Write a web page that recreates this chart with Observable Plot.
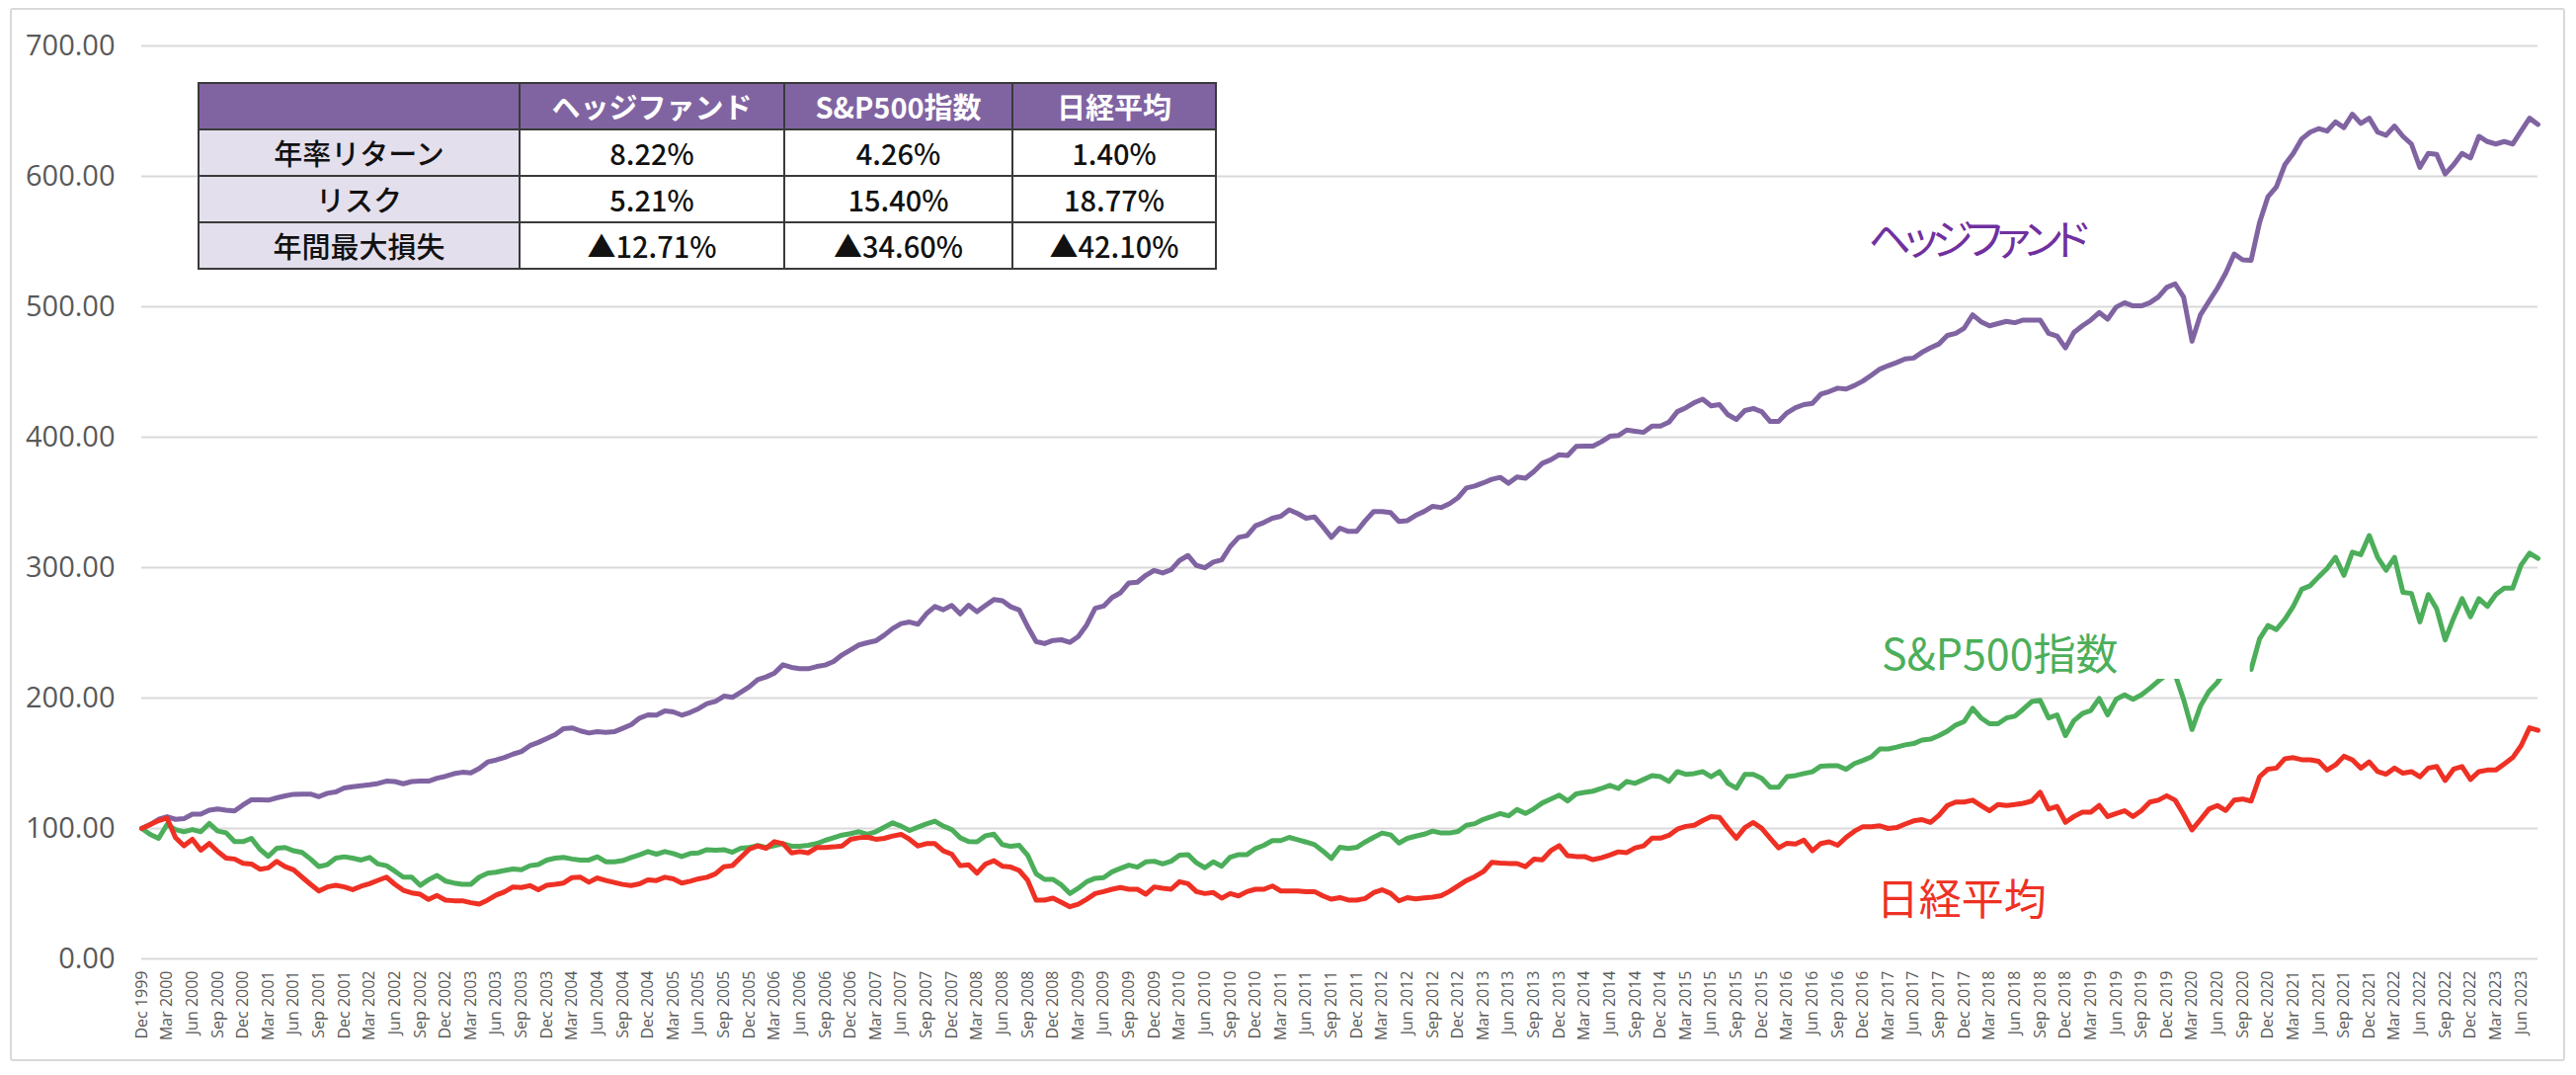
<!DOCTYPE html>
<html>
<head>
<meta charset="utf-8">
<script src="https://cdn.jsdelivr.net/npm/d3@7"></script>
<script src="https://cdn.jsdelivr.net/npm/@observablehq/plot@0.6"></script>
<style>
  html, body { margin: 0; padding: 0; background: #ffffff; }
  #wrap { position: relative; width: 2608px; height: 1088px; overflow: hidden; background: #fff; }
  #frame { position: absolute; left: 10px; top: 8px; width: 2587px; height: 1066px; border: 2px solid #d9d9d9; border-radius: 3px; box-sizing: border-box; pointer-events: none; }
  #stats { position: absolute; left: 200px; top: 83px; border-collapse: collapse; font-family: "Noto Sans CJK JP", sans-serif; font-size: 29px; color: #111; table-layout: fixed; }
  #stats td, #stats th { border: 2px solid #3a3a3a; text-align: center; padding: 0; height: 45px; line-height: 45px; }
  #stats th { background: #8064a2; color: #fff; font-weight: 700; }
  #stats td.rowhead { background: #e4dfec; font-weight: 500; }
  #stats td.val { background: #fff; font-weight: 500; }
  .series-label { font-feature-settings: "palt"; }
</style>
</head>
<body>
<div id="wrap"><div id="frame"></div></div>
<script>
// ---- Data (monthly index values, Dec 1999 = 100, through Aug 2023) ----
const startYear = 1999, startMonthIndex = 11; // December 1999
const monthNames = ["Jan","Feb","Mar","Apr","May","Jun","Jul","Aug","Sep","Oct","Nov","Dec"];

const hedgeFund = [
  100,103,107,109,107,107.5,111,111,114,115,
  114,113.5,118,122,122,121.7,123.5,125,126.2,126.4,
  126.4,124.4,127,128,131,132,132.7,133.5,134.5,136.3,
  136,134.3,136,136.3,136.3,138.5,140,142,143.1,142.6,
  146,151,152.5,154.4,157,159,163.5,166,169,172,
  176.6,177.1,174.8,173.2,174.2,173.7,174.2,176.8,179.5,184.6,
  187.1,186.9,190.2,189.4,186.9,189,191.9,195.7,197.5,201.5,
  200.5,204.5,208.6,214.1,216.2,219.2,225.5,223.5,222.5,222.5,
  224.2,225.3,228,233.1,236.9,240.7,242.4,243.9,248.2,253.3,
  257.1,258.3,256.6,264.6,270.2,267.7,271,264.6,271.2,266.2,
  271,275.5,274.6,270,267.5,254.8,243.4,241.7,244.2,244.7,
  242.7,247.2,256.1,268.8,270.5,277.1,280.7,288.3,288.8,294.1,
  297.9,295.9,298.4,305.5,309.3,301.7,299.9,304.2,306,316.1,
  323.2,324.5,332.1,334.6,337.9,339.4,344.3,341.5,337.9,338.9,
  331.3,323.2,330.3,327.8,327.8,335.9,343,343,342.2,335.5,
  336,340.1,343.1,347,346.1,349.1,353.6,361.1,362.6,365,
  367.7,369.2,364.7,369.5,368.6,373.7,380,382.7,386.6,386,
  392.9,393.2,393.2,396.5,400.7,401.3,405.5,404.6,403.7,408.5,
  408.5,411.5,419.6,422.6,426.5,429.2,424.1,425,417.2,413.6,
  420.5,422,419.6,412.1,412.1,418.7,422.6,425,426,433,
  435,437.6,436.9,439.7,443.1,447.5,452.2,454.9,457.3,460,
  460.7,465.1,468.5,471.5,478,479.7,483.7,493.9,488.5,485.4,
  487.1,488.8,487.8,489.8,489.8,489.8,479.7,477.6,468.5,480.3,
  485.4,489.8,495.6,490.5,499.7,503.1,500.7,500.7,503.1,507.5,
  514.9,517.6,507.5,473.6,493.9,504.1,514.2,526,540.5,536,
  535.6,564.6,584.4,591.9,608.9,617.6,628.7,633.9,636.6,634.7,
  641.8,637.4,647.7,640.6,644.6,633.9,631.5,638.6,630.7,624.8,
  606.9,617.6,616.8,601.8,608.9,617.6,614.1,630.7,626.7,624.8,
  626.7,624.8,634.7,644.6,639.8
];

const sp500 = [
  100,95.5,92.4,103,99.2,97.5,99.2,97.5,103.8,98,
  96.7,89.9,89.9,92.4,84.1,78.6,84.9,85.4,82.9,81.6,
  76.6,70.8,72.3,77.3,78.3,77.3,75.8,77.8,72.8,71.5,
  67.3,62.7,62.7,56.4,60.7,64,59.7,58.2,57.2,57.2,
  62.7,65.7,66.5,67.8,69,68.3,71.5,72.3,75.8,77.3,
  77.8,76.6,75.8,75.8,78.3,74.5,74.5,75.3,77.8,79.8,
  82.3,80.3,82.3,80.8,78.5,80.8,81.3,83.8,83.3,83.8,
  81.8,84.8,85.4,86.9,85.4,86.9,88.4,86.4,86.4,87.1,
  88.4,90.9,92.9,94.9,96,97.5,95.5,97.5,101,104.3,
  101.8,98.5,101,103.5,105.6,101.8,99.2,92.9,89.9,89.8,
  94.4,95.6,87.6,86.3,87.1,79.5,65.3,61,61,56.7,
  50.1,54.2,59.2,61.8,62.3,66.8,69.4,71.9,70.4,74.4,
  74.9,72.9,74.9,79.5,80,73.7,69.9,74.4,71.1,78,
  80,80,84.6,87.1,90.7,90.7,93.2,91.4,89.6,87.6,
  82.6,77,85.6,84.6,85.6,89.6,93.2,96.5,95.2,88.8,
  92.4,94.1,95.6,98,96.5,96.5,97.7,102.5,103.7,107,
  109.1,111.5,109.7,114.5,111.5,115.1,119.6,122.6,125.6,121.1,
  126.5,127.7,128.6,130.7,133.1,130.7,136.1,134.6,137.6,140.6,
  139.7,136.1,143.6,141.5,142.1,143.6,139.7,143.6,134.6,131,
  141.5,141.5,138.5,131.6,131.6,139.7,140.6,142.1,143.5,147.8,
  148.1,148.1,145.4,149.8,152.2,154.9,161,161,162.4,164.1,
  165.1,167.8,168.5,171.2,174.6,179.3,182,192.2,184.7,180.3,
  180.3,184.7,186.1,191.5,197.3,198.3,184.7,187.1,171.2,182.7,
  188.1,190.5,199.7,187.1,199,202.4,199,202.4,207.5,213,
  218,218,199,175.9,193.9,205.1,212,222,236,228,
  222,245.3,255.6,252.5,260.4,270.3,283.4,286.1,292.9,299.2,
  307.9,294.1,311.9,309.9,324.6,307.9,298,307.9,281,280.2,
  258.4,279.4,268.3,244.6,261.2,276.2,262.4,276.2,270.3,279.4,
  284.2,284.2,302,311.1,307.1
];

const nikkei = [
  100,103,106,108,93,86.7,91.7,83.4,88.5,82.4,
  77.3,76.6,73.3,72.8,68.8,69.8,74.8,70.8,68.3,62.7,
  57.2,52.1,55.2,56.4,55.2,53.1,55.7,57.7,60.2,62.7,
  57.2,52.6,50.6,49.6,45.6,48.6,45.1,44.6,44.6,43.1,
  42.1,45.1,48.9,51.4,55.2,54.7,56.2,53.1,56.4,57.2,
  58.2,62.4,62.6,58.8,62.1,60.1,58.6,57.1,56.3,57.6,
  60.6,60.1,62.6,61.4,58.1,59.6,61.4,62.6,65.2,70.7,
  71.5,77.8,84.1,86.6,84.8,89.9,88.4,81.3,82.3,81.3,
  85.4,85.4,85.9,86.6,91.7,92.9,93.4,91.7,92.4,94.2,
  95.5,91.7,86.6,88.4,88.4,82.8,80.3,71.5,72.2,65.8,
  72.7,75.3,71.1,70.4,67.8,60.3,45.1,45.1,46.6,43.3,
  40,42,45.8,50.1,51.6,53.4,54.7,53.4,53.4,49.6,
  55.2,54.2,53.4,59.2,57.7,51.6,50.1,50.9,46.6,50.1,
  48.3,51.6,53.4,53.4,55.9,52.1,52.1,52.1,51.6,51.6,
  48.3,45.8,47,45.1,45.1,46.3,50.8,53,50.3,44.5,
  47,46,46.8,47.3,48.5,51.8,56,60.1,63.1,66.9,
  74,73.5,73.2,73.1,70.7,76.5,76,83,86.8,79.1,
  78.5,78.5,76.1,77.6,79.7,82.1,81.5,85.1,86.6,92.6,
  92.6,94.7,99.5,101.6,102.5,106.1,109.1,108.5,100.1,92.6,
  100.7,104.6,100.1,92.6,85.1,88.7,88.1,91.1,82.9,88.5,
  89.8,87.1,93.2,98,101.4,101.4,102,100,100.7,103.4,
  105.8,106.8,104.7,110.2,117.6,120.3,120.3,121.7,117.6,113.6,
  118.3,117.6,118.3,119.3,121,127.8,114.9,116.9,104.7,109.2,
  112.5,112.5,117.6,109.2,111.5,113.6,109.2,113.6,120.3,121.7,
  125.1,121.7,110.8,98.9,106.8,114.9,117.6,113.8,121.8,122.6,
  121,139.6,145.5,146.3,153.5,154.3,152.7,152.7,151.5,144.8,
  148.7,155.4,152.7,146.3,151.1,143.6,141.6,146.3,142.4,143.6,
  139.6,146.3,147.5,136.8,145.5,147.5,137.6,143.6,144.8,144.8,
  149.5,154.3,163.4,177.2,175.2
];

// Category labels (one per month) and the quarterly tick labels
const monthLabels = hedgeFund.map((_, i) => {
  const k = startMonthIndex + i;
  return monthNames[k % 12] + " " + (startYear + Math.floor(k / 12));
});
const xTickIndex = monthLabels.map((_, i) => i).filter(i => i % 3 === 0);
const yTicks = [0, 100, 200, 300, 400, 500, 600, 700];

// Series direct labels (data-space anchors) and the white label box of the S&P label
const seriesLabels = [
  {name: "ヘッジファンド", i: 204.6, v: 550.5, color: "#7030a0", spacing: "-0.15em"},
  {name: "S&P500指数", i: 206.2, v: 231.8, color: "#4cae5a", spacing: "0em"},
  {name: "日経平均", i: 205.6, v: 44, color: "#ee3124", spacing: "0em"}
];
const spLabelBox = [{i1: 204, i2: 249.9, v1: 214.4, v2: 262}];

// Stats table
const tableColumns = ["ヘッジファンド", "S&P500指数", "日経平均"];
const tableRowNames = ["年率リターン", "リスク", "年間最大損失"];
const tableValues = [
  ["8.22%", "4.26%", "1.40%"],
  ["5.21%", "15.40%", "18.77%"],
  ["▲12.71%", "▲34.60%", "▲42.10%"]
];
const tableColWidths = [325, 268, 231, 206];

// ---- Chart ----
const series = [
  {values: hedgeFund, color: "#8064a2"},
  {values: sp500, color: "#4cae5a"},
  {values: nikkei, color: "#ee3124"}
];

const chart = Plot.plot({
  width: 2608,
  height: 1088,
  marginLeft: 143,
  marginRight: 39,
  marginTop: 46,
  marginBottom: 118,
  style: {fontFamily: "'Open Sans', sans-serif", background: "transparent", overflow: "visible"},
  x: {type: "linear", domain: [0, hedgeFund.length - 1]},
  y: {domain: [0, 700]},
  marks: [
    Plot.gridY(yTicks, {stroke: "#d9d9d9", strokeOpacity: 1, strokeWidth: 2}),
    Plot.axisY(yTicks, {
      tickSize: 0, tickPadding: 27, tickFormat: d3.format(".2f"),
      fontSize: 29, color: "#595959", label: null
    }),
    Plot.axisX(xTickIndex, {
      tickSize: 0, tickPadding: 12, tickRotate: -90,
      tickFormat: i => monthLabels[i], fontSize: 16, color: "#595959", label: null
    }),
    ...series.map(s => Plot.line(s.values, {
      x: (d, i) => i, y: d => d, stroke: s.color, strokeWidth: 5,
      strokeLinejoin: "round", strokeLinecap: "round"
    })),
    Plot.rect(spLabelBox, {x1: "i1", x2: "i2", y1: "v1", y2: "v2", fill: "white"}),
    Plot.text(seriesLabels, {
      x: "i", y: "v", text: "name", fill: "color", textAnchor: "start",
      fontSize: 43, fontFamily: "'Noto Sans CJK JP', sans-serif", fontWeight: 400
    })
  ]
});

d3.select(chart).selectAll("text").each(function() {
  const s = seriesLabels.find(s => s.name === this.textContent);
  if (s) d3.select(this).attr("class", "series-label").style("letter-spacing", s.spacing);
});

const wrap = document.getElementById("wrap");
wrap.insertBefore(chart, wrap.firstChild);

// Table
const table = d3.select(wrap).append("table").attr("id", "stats");
const colgroup = table.append("colgroup");
tableColWidths.forEach(w => colgroup.append("col").style("width", w + "px"));
const headRow = table.append("tr");
headRow.append("th").text("");
tableColumns.forEach(c => headRow.append("th").text(c));
tableRowNames.forEach((r, ri) => {
  const tr = table.append("tr");
  tr.append("td").attr("class", "rowhead").text(r);
  tableValues[ri].forEach(v => tr.append("td").attr("class", "val").text(v));
});
table.style("width", d3.sum(tableColWidths) + "px");
</script>
</body>
</html>
